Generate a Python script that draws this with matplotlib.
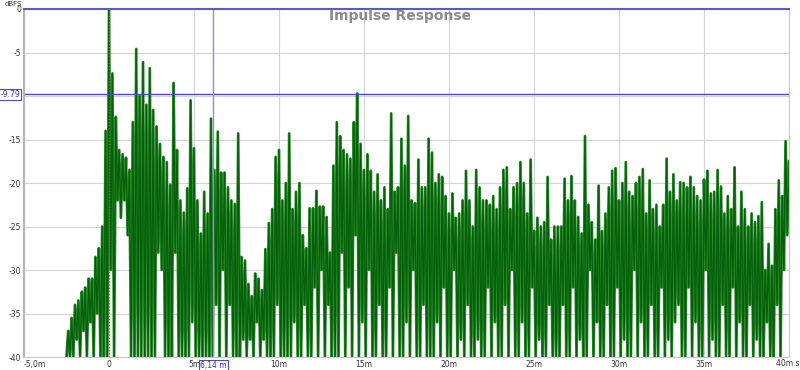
import numpy as np
import matplotlib
matplotlib.use("Agg")
import matplotlib.pyplot as plt

# --- data (dBFS), peaks every 0.2 ms from -2.4 ms ---
T_START = -2.4   # ms, first peak
STEP = 0.2       # ms between peaks, troughs sit halfway
lead_t, lead_db = -2.5, -40.0

peaks_pre = [-37, -35.5, -34, -33.5, -32.5, -32, -31, -31, -28.5, -27.5, -25, -14]
peak_main = [0.0]
peaks_0_4 = [-7.4, -12.4, -16.2, -16.7, -17.1, -18.5, -13, -4.6, -10, -6.1, -11,
             -6.8, -11.6, -13.5, -15.5, -17, -17.6, -20.2, -8.5, -16.2, -22, -23.4]
peaks_5_12 = [-20.6, -10.5, -16, -22, -25.8, -21, -23.5, -12.6, -18.5, -14.1,
              -18.8, -18.8, -20.5, -22, -22.4, -14.3, -28.5, -28.9, -31.6, -33,
              -30.4, -31, -32.3, -27.6, -24.6, -23, -17, -16.2, -22, -20,
              -14.3, -23, -21, -20, -26, -27.5, -22.9]
peaks_12_19 = [-22.9, -20.9, -22.7, -22.7, -23.9, -28, -18, -13, -14.6, -16.2,
               -16.7, -17.2, -13, -9.7, -15.5, -18.5, -16.7, -18.6, -21, -19,
               -22, -20.5, -23, -12, -21, -20.5, -14.9, -18, -12.3, -22,
               -22.3, -17.3, -20.5, -20.5, -14.9, -16.5]
peaks_19_26 = [-20, -19, -19.3, -21.5, -23.5, -21.2, -24, -23.5, -22, -18.6,
               -22, -25, -18.5, -20.5, -22, -22, -22.5, -21.5, -23, -20.5,
               -18.5, -18.2, -23, -20.5, -20, -17.6, -20, -23.5, -17.3, -25.5,
               -24, -25, -24.5, -19.3, -26.5, -25, -25]
peaks_27_33 = [-25, -19.5, -22, -19.2, -22, -23.9, -25.8, -14.6, -22.5, -24.5,
               -26.5, -20.3, -25.5, -23.5, -20.5, -18.6, -18.3, -22, -20, -17.6,
               -21, -21.5, -20, -19.3, -18.4, -23.5, -19.7, -23, -22.5, -25,
               -22.5, -17.2, -21, -19, -22]
peaks_34_40 = [-19.9, -20, -20.5, -19.3, -20.5, -21.5, -22, -19.6, -18.6, -21.2,
               -21, -18.5, -20.4, -23.5, -21.5, -23, -18.2, -25, -21, -23,
               -25, -23.5, -24.5, -23.8, -22.2, -30, -27, -29.5, -23, -19.7,
               -21.5, -15.2, -17.5]

troughs_pre = [-40, -40, -38, -40, -37, -40, -36, -40, -35, -40, -40, -40]
troughs_0_4 = [-30, -40, -22, -24, -22, -26, -40, -40, -40, -40, -40, -40, -40, -40,
               -28, -30, -40, -40, -40, -28, -40, -40]
troughs_5_12 = [-40, -40, -36, -40, -40, -40, -40, -40, -40, -34, -40, -30, -40,
                -34, -40, -40, -40, -38, -40, -38, -40, -36, -40, -38, -40, -40,
                -40, -34, -40, -40, -40, -40, -36, -40, -40, -34, -40, -40]
troughs_12_19 = [-32, -40, -30, -40, -34, -40, -40, -40, -28, -40, -32, -40, -26,
                 -40, -36, -40, -30, -40, -40, -34, -40, -40, -32, -40, -28, -40,
                 -40, -36, -40, -30, -40, -40, -34, -40, -40]
troughs_19_26 = [-40, -36, -40, -32, -40, -40, -30, -40, -38, -40, -34, -40, -40,
                 -38, -40, -40, -32, -40, -36, -40, -40, -34, -40, -30, -40, -40,
                 -36, -40, -40, -32, -40, -38, -40, -40, -34, -40, -40]
troughs_27_33 = [-40, -34, -40, -40, -32, -40, -38, -40, -40, -30, -40, -36, -40,
                 -40, -34, -40, -40, -32, -40, -38, -40, -40, -30, -40, -36, -40,
                 -40, -34, -40, -40, -32, -40, -38, -40, -36]
troughs_34_40 = [-34, -40, -40, -32, -40, -36, -40, -40, -30, -40, -38, -40, -40,
                 -34, -40, -40, -32, -40, -36, -40, -40, -34, -40, -38, -40, -40,
                 -36, -40, -40, -34, -40, -30, -26]

cursor_t = 6.14
cursor_db = -9.79
x_ticks = [-5, 0, 5, 10, 15, 20, 25, 30, 35, 40]
x_labels = ["-5,0m", "0", "5m", "10m", "15m", "20m", "25m", "30m", "35m", ""]
y_ticks = [0, -5, -10, -15, -20, -25, -30, -35, -40]

peaks = np.concatenate([peaks_pre, peak_main, peaks_0_4, peaks_5_12,
                        peaks_12_19, peaks_19_26, peaks_27_33, peaks_34_40])
troughs = np.concatenate([troughs_pre, troughs_0_4, troughs_5_12, troughs_12_19,
                          troughs_19_26, troughs_27_33, troughs_34_40])
db = np.empty(len(peaks) + len(troughs))
db[0::2] = peaks
db[1::2] = troughs
t_ms = T_START + STEP / 2 * np.arange(len(db))
t_ms = np.concatenate([[lead_t], t_ms])
db = np.concatenate([[lead_db], db])

fig = plt.figure(figsize=(8, 3.7), dpi=100)
ax = fig.add_axes([24 / 800, 13 / 370, 765 / 800, 348 / 370])

ax.set_xlim(-5, 40)
ax.set_ylim(-40, 0)
ax.set_xticks(x_ticks)
ax.set_xticklabels(x_labels)
ax.set_yticks(y_ticks)
# the -10 label sits under the cursor readout, as in the reference
ax.set_yticklabels(["" if v == -10 else str(v) for v in y_ticks])
ax.tick_params(length=0, labelsize=5.5, colors="#333333", pad=2)
ax.xaxis.get_ticklabels()[0].set_horizontalalignment("left")
ax.grid(True, color="#d4d4d4", linewidth=0.8)
ax.set_axisbelow(True)

for side in ("right", "bottom"):
    ax.spines[side].set_color("#c8c8c8")
ax.spines["left"].set_color("#b4b4b4")
ax.spines["left"].set_linewidth(1.5)
ax.spines["top"].set_color("#5a5ac8")
ax.spines["top"].set_linewidth(1.5)

# light underlay plus darker trace gives the two-tone look of the original
ax.plot(t_ms, db, color="#2f8f2f", linewidth=2.0, solid_joinstyle="round")
ax.plot(t_ms, db, color="#05600a", linewidth=1.0, solid_joinstyle="round")
ax.plot([0, 0], [0, -40], color="#c0502a", linestyle=(0, (1, 1.5)), linewidth=0.9)

# cursors
ax.axhline(cursor_db, color="#4a4ac0", linewidth=1.0)
ax.axvline(cursor_t, color="#9090e0", linewidth=1.0)

box = dict(boxstyle="square,pad=0.15", facecolor="white", edgecolor="#4a4ac0", linewidth=0.8)
ax.text(-0.005, cursor_db, f"{cursor_db:.2f}", transform=ax.get_yaxis_transform(),
        ha="right", va="center", fontsize=5.5, color="#3a3ab0", bbox=box)
ax.text(cursor_t, -0.012, "6,14 m", transform=ax.get_xaxis_transform(),
        ha="center", va="top", fontsize=5.5, color="#3a3ab0", bbox=box)
fig.text(799 / 800, 6 / 370, "40m s", fontsize=5.5, color="#333333",
         ha="right", va="center")

fig.text(5 / 800, 1 - 4 / 370, "dBFS", fontsize=5, color="#333333", va="center")
fig.text(400 / 800, 1 - 16 / 370, "Impulse Response", fontsize=10, color="#8a8a8a",
         fontweight="bold", ha="center", va="center")

fig.savefig("out.png", dpi=100)
